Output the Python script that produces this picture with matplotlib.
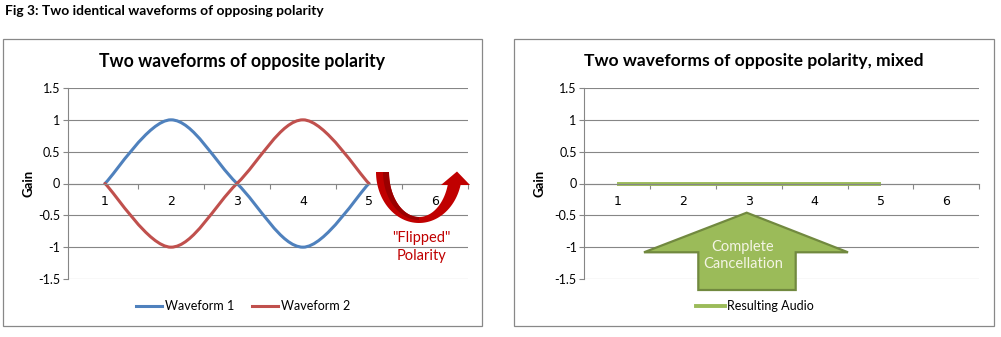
import numpy as np
import matplotlib
matplotlib.use("Agg")
import matplotlib.pyplot as plt
from matplotlib.path import Path
from matplotlib.patches import PathPatch, Polygon, Rectangle
from matplotlib.lines import Line2D

# ---------------- data ----------------
categories = [1, 2, 3, 4, 5]
category_labels = ["1", "2", "3", "4", "5", "6"]
waveform1 = [0, 1, 0, -1, 0]
waveform2 = [0, -1, 0, 1, 0]
resulting_audio = [0, 0, 0, 0, 0]
y_ticks = [-1.5, -1, -0.5, 0, 0.5, 1, 1.5]
y_tick_labels = ["-1.5", "-1", "-0.5", "0", "0.5", "1", "1.5"]

fig_title = "Fig 3: Two identical waveforms of opposing polarity"
left_title = "Two waveforms of opposite polarity"
right_title = "Two waveforms of opposite polarity, mixed"

BLUE = "#4F81BD"
RED = "#C0504D"
GREEN = "#9BBB59"
GRID = "#868686"
FONT = ["Lato", "DejaVu Sans"]
TICKFONT = ["Lato", "DejaVu Sans"]

W, H = 1001, 337
fig = plt.figure(figsize=(W / 100, H / 100), dpi=100)
fig.patch.set_facecolor("white")


def fx(px):
    return px / W


def fy(py):
    return 1 - py / H


def smooth_path(xs, ys):
    """Excel-style smoothed line (Bezier through the data points)."""
    P = np.column_stack([xs, ys]).astype(float)
    n = len(P)
    verts = [P[0]]
    codes = [Path.MOVETO]
    for i in range(n - 1):
        p_prev = P[i - 1] if i > 0 else P[i]
        p_next2 = P[i + 2] if i + 2 < n else P[i + 1]
        c1 = P[i] + (P[i + 1] - p_prev) / 6.0
        c2 = P[i + 1] - (p_next2 - P[i]) / 6.0
        verts += [c1, c2, P[i + 1]]
        codes += [Path.CURVE4] * 3
    return Path(verts, codes)


def style_axes(ax, xlim):
    ax.set_xlim(*xlim)
    ax.set_ylim(-1.5, 1.5)
    ax.set_yticks(y_ticks)
    ax.set_yticklabels(y_tick_labels)
    ax.set_xticks(range(1, 7))
    ax.set_xticklabels(category_labels)
    ax.set_xticks([1.5, 2.5, 3.5, 4.5, 5.5, 6.5], minor=True)
    ax.tick_params(axis="x", which="major", length=0, pad=8, labelsize=9)
    ax.tick_params(axis="x", which="minor", length=3.5, width=0.8, color=GRID,
                   direction="out")
    ax.tick_params(axis="y", length=3.5, width=0.8, color=GRID, pad=2,
                   labelsize=9)
    for lab in ax.get_xticklabels() + ax.get_yticklabels():
        lab.set_family(TICKFONT)
    ax.grid(axis="y", color=GRID, lw=0.8)
    ax.set_axisbelow(True)
    for s in ["top", "right"]:
        ax.spines[s].set_visible(False)
    ax.spines["bottom"].set_position(("data", 0))
    ax.spines["bottom"].set_color(GRID)
    ax.spines["bottom"].set_linewidth(0.8)
    ax.spines["left"].set_color(GRID)
    ax.spines["left"].set_linewidth(0.8)
    ax.set_facecolor("none")


# ---------------- frames ----------------
for x0, x1 in [(3, 482), (514, 994)]:
    fig.patches.append(Rectangle((fx(x0), fy(326)), fx(x1 - x0), (326 - 39) / H,
                                 transform=fig.transFigure, fill=False,
                                 edgecolor="#888888", lw=0.9))

fig.text(fx(5), fy(11), fig_title, fontsize=9.9, fontweight="bold",
         family=FONT, va="center", ha="left")

# ---------------- left chart ----------------
axL = fig.add_axes([fx(68), fy(279), fx(400), (279 - 88) / H])
style_axes(axL, (0.44, 6.5))
for ys, col in [(waveform1, BLUE), (waveform2, RED)]:
    axL.add_patch(PathPatch(smooth_path(categories, ys), fill=False,
                            edgecolor=col, lw=2.2, capstyle="round",
                            joinstyle="round"))
axL.set_ylabel("Gain", fontsize=9.5, fontweight="bold", family=FONT)
axL.yaxis.set_label_coords(-0.0825, 0.5)
fig.text(fx(242), fy(61), left_title, fontsize=12.7, fontweight="bold",
         family=FONT, ha="center", va="center")

hL = [Line2D([], [], color=BLUE, lw=2.2), Line2D([], [], color=RED, lw=2.2)]
fig.legend(hL, ["Waveform 1", "Waveform 2"], loc="center",
           bbox_to_anchor=(fx(243), fy(306)), ncol=2, frameon=False,
           prop={"family": TICKFONT, "size": 9}, handlelength=2.1,
           handletextpad=0.25, columnspacing=1.4)

# curved red "flipped" arrow (annotation shape, pixel coordinates)
cx, cy = 419, 172
s_end = np.pi - np.arcsin(13 / 51)
s = np.linspace(0, s_end, 60)
outer = np.column_stack([cx - 43 * np.cos(s), cy + 51 * np.sin(s)])
s_in_end = np.pi - np.arcsin(13 / 45)
s2 = np.linspace(0, s_in_end, 60)
inner = np.column_stack([cx - 30 * np.cos(s2), cy + 45 * np.sin(s2)])
head = np.array([[470, 185], [457, 171.5], [441, 185]])
shape = np.vstack([outer, head, inner[::-1]])
pts = np.column_stack([fx(shape[:, 0]), fy(shape[:, 1])])
fig.patches.append(Polygon(pts, closed=True, transform=fig.transFigure,
                           facecolor="#C00000", edgecolor="none"))
s3 = np.linspace(0, np.pi / 2, 40)
mid = np.column_stack([cx - 36 * np.cos(s3), cy + 48 * np.sin(s3)])
inn = np.column_stack([cx - 30 * np.cos(s3), cy + 45 * np.sin(s3)])
dark = np.vstack([mid, inn[::-1]])
fig.patches.append(Polygon(np.column_stack([fx(dark[:, 0]), fy(dark[:, 1])]),
                           closed=True, transform=fig.transFigure,
                           facecolor="#9A0000", edgecolor="none"))
fig.text(fx(421), fy(238), "\"Flipped\"", color="#C00000", fontsize=10.5,
         family=FONT, ha="center", va="center")
fig.text(fx(421), fy(256), "Polarity", color="#C00000", fontsize=10.5,
         family=FONT, ha="center", va="center")

# ---------------- right chart ----------------
axR = fig.add_axes([fx(584.3), fy(279), fx(395), (279 - 88) / H])
style_axes(axR, (0.5, 6.5))
axR.plot(categories, resulting_audio, color=GREEN, lw=2.8,
         solid_capstyle="butt")
axR.set_ylabel("Gain", fontsize=9.5, fontweight="bold", family=FONT)
axR.yaxis.set_label_coords(-0.099, 0.5)
fig.text(fx(754), fy(61), right_title, fontsize=12.6, fontweight="bold",
         family=FONT, ha="center", va="center")
hR = [Line2D([], [], color=GREEN, lw=2.8)]
fig.legend(hR, ["Resulting Audio"], loc="center",
           bbox_to_anchor=(fx(755), fy(306)), ncol=1, frameon=False,
           prop={"family": TICKFONT, "size": 9}, handlelength=2.3,
           handletextpad=0.2)

# big green "cancellation" arrow
garrow = np.array([[746.7, 212.7], [848, 252.3], [795.7, 252.3], [795.7, 290],
                   [698.3, 290], [698.3, 252.3], [644, 252.3]])
fig.patches.append(Polygon(np.column_stack([fx(garrow[:, 0]), fy(garrow[:, 1])]),
                           closed=True, transform=fig.transFigure,
                           facecolor=GREEN, edgecolor="#71893F", lw=1.6,
                           joinstyle="miter", zorder=5))
t1 = fig.text(fx(743), fy(247), "Complete", color="#F4F4E4", fontsize=10.5,
              family=FONT, ha="center", va="center")
t2 = fig.text(fx(743), fy(264.5), "Cancellation", color="#F4F4E4",
              fontsize=10.5, family=FONT, ha="center", va="center")
t1.set_zorder(6)
t2.set_zorder(6)

fig.savefig("out.png", dpi=100)
